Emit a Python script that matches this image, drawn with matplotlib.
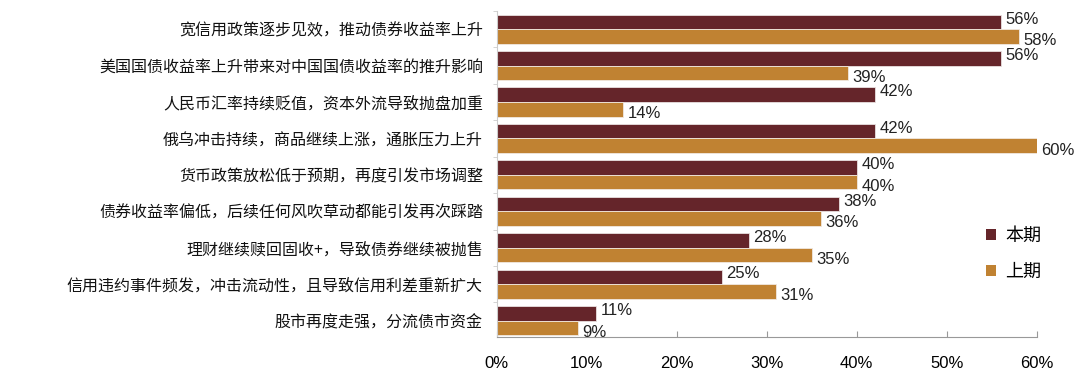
import numpy as np
import matplotlib
matplotlib.use('Agg')
import matplotlib.pyplot as plt
from matplotlib.ticker import FuncFormatter

plt.rcParams['font.family'] = ['Noto Sans CJK SC', 'DejaVu Sans']

categories = ['宽信用政策逐步见效，推动债券收益率上升',
              '美国国债收益率上升带来对中国国债收益率的推升影响',
              '人民币汇率持续贬值，资本外流导致抛盘加重',
              '俄乌冲击持续，商品继续上涨，通胀压力上升',
              '货币政策放松低于预期，再度引发市场调整',
              '债券收益率偏低，后续任何风吹草动都能引发再次踩踏',
              '理财继续赎回固收+，导致债券继续被抛售',
              '信用违约事件频发，冲击流动性，且导致信用利差重新扩大',
              '股市再度走强，分流债市资金']
current = [56, 56, 42, 42, 40, 38, 28, 25, 11]    # 本期
previous = [58, 39, 14, 60, 40, 36, 35, 31, 9]    # 上期

c_cur = '#65252a'
c_prev = '#c08232'
num_font = ['Liberation Sans', 'DejaVu Sans']

fig = plt.figure(figsize=(10.8, 3.73), dpi=100)
ax = fig.add_axes([0.46, 0.0965, 0.5, 0.874])

y = np.arange(len(categories))
h = 0.4
ax.barh(y - h/2, current, height=h, color=c_cur, edgecolor='#e8e0e0', linewidth=0.6, label='本期')
ax.barh(y + h/2, previous, height=h, color=c_prev, edgecolor='#f0e8e0', linewidth=0.6, label='上期')

for i in range(len(categories)):
    ax.text(current[i] + 0.5, y[i] - h/2 - 0.08, '%d%%' % current[i], va='center', ha='left',
            fontsize=12, color='#222222', family=num_font)
    ax.text(previous[i] + 0.5, y[i] + h/2 + 0.12, '%d%%' % previous[i], va='center', ha='left',
            fontsize=12, color='#222222', family=num_font)

ax.set_ylim(8.45, -0.5)
ax.set_xlim(0, 60)
ax.set_yticks(y)
ax.set_yticklabels(categories, fontsize=11.5, color='#111111')
ax.set_xticks(np.arange(0, 61, 10))
ax.xaxis.set_major_formatter(FuncFormatter(lambda v, p: '%d%%' % v))
for lab in ax.get_xticklabels():
    lab.set_family(num_font)
    lab.set_fontsize(12)
ax.tick_params(axis='x', direction='in', length=4, color='#999999', pad=14)
ax.tick_params(axis='y', length=0, pad=10)
ax.set_yticks(np.arange(-0.5, 8.5, 1), minor=True)
ax.tick_params(axis='y', which='minor', direction='out', length=3, color='#cccccc')

for s in ['top', 'right']:
    ax.spines[s].set_visible(False)
ax.spines['left'].set_color('#cccccc')
ax.spines['bottom'].set_color('#999999')

leg = ax.legend(loc='center left', bbox_to_anchor=(0.875, 0.255), frameon=False,
                fontsize=13, handlelength=0.6, handleheight=0.6, labelspacing=1.0,
                handletextpad=0.5)
for p in leg.get_patches():
    p.set_linewidth(0)

plt.savefig('out.png')
